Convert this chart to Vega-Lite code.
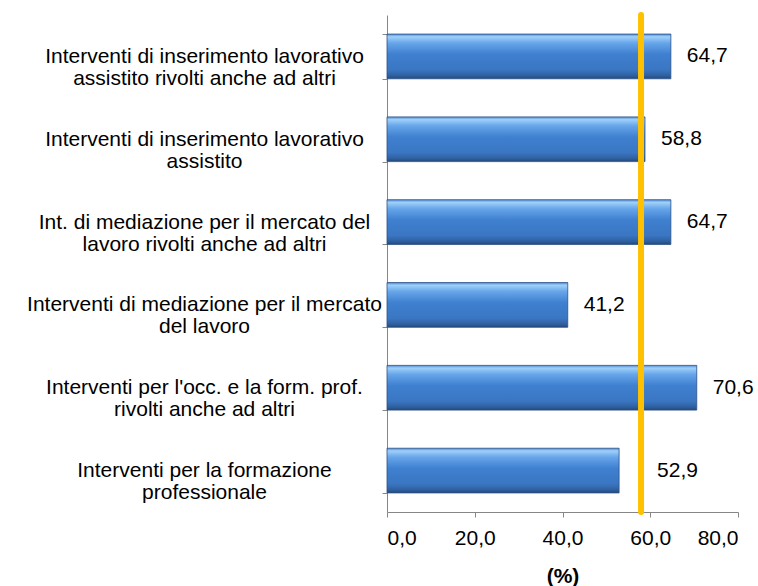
{
  "$schema": "https://vega.github.io/schema/vega-lite/v6.json",
  "width": 351,
  "height": 497,
  "autosize": {"type": "none"},
  "padding": {"left": 387, "top": 15, "right": 20, "bottom": 74},
  "background": "white",
  "config": {
    "font": "Liberation Sans",
    "view": {"stroke": null}
  },
  "datasets": {
    "righe": [
      {"categoria": "Interventi di inserimento lavorativo\nassistito rivolti anche ad altri", "valore": 64.7, "etichetta": "64,7"},
      {"categoria": "Interventi di inserimento lavorativo\nassistito", "valore": 58.8, "etichetta": "58,8"},
      {"categoria": "Int. di mediazione per il mercato del\nlavoro rivolti anche ad altri", "valore": 64.7, "etichetta": "64,7"},
      {"categoria": "Interventi di mediazione per il mercato\ndel lavoro", "valore": 41.2, "etichetta": "41,2"},
      {"categoria": "Interventi per l'occ. e la form. prof.\nrivolti anche ad altri", "valore": 70.6, "etichetta": "70,6"},
      {"categoria": "Interventi per la formazione\nprofessionale", "valore": 52.9, "etichetta": "52,9"}
    ],
    "media": [{"media": 57.9}]
  },
  "layer": [
    {
      "data": {"name": "righe"},
      "mark": {
        "type": "bar",
        "stroke": "#2b5286",
        "strokeWidth": 0.8,
        "color": {
          "gradient": "linear",
          "x1": 0, "y1": 0, "x2": 0, "y2": 1,
          "stops": [
            {"offset": 0, "color": "#4f8bd4"},
            {"offset": 0.06, "color": "#9fd0fa"},
            {"offset": 0.2, "color": "#67a6ea"},
            {"offset": 0.45, "color": "#3f80d0"},
            {"offset": 0.8, "color": "#3a76c2"},
            {"offset": 0.93, "color": "#2f609f"},
            {"offset": 1, "color": "#24487a"}
          ]
        }
      },
      "encoding": {
        "y": {
          "field": "categoria",
          "type": "nominal",
          "sort": null,
          "scale": {"paddingInner": 0.46, "paddingOuter": 0.23},
          "axis": {
            "title": null,
            "tickBand": "extent",
            "domainColor": "#868686",
            "tickColor": "#868686",
            "tickSize": 5,
            "labelFontSize": 21,
            "labelLineHeight": 22,
            "labelColor": "#000000",
            "labelAlign": "center",
            "labelBaseline": "middle",
            "labelLimit": 0,
            "labelOverlap": false,
            "labelPadding": 178,
            "labelExpr": "split(datum.label, '\\n')"
          }
        },
        "x": {
          "field": "valore",
          "type": "quantitative",
          "scale": {"domain": [0, 80], "nice": false},
          "axis": {
            "values": [0, 20, 40, 60, 80],
            "grid": false,
            "domainColor": "#868686",
            "tickColor": "#868686",
            "tickSize": 5,
            "labelFontSize": 21,
            "labelColor": "#000000",
            "labelPadding": 10,
            "labelExpr": "replace(format(datum.value, '.1f'), '.', ',')",
            "title": "(%)",
            "titleFontSize": 21,
            "titleFontWeight": "bold",
            "titleColor": "#000000",
            "titlePadding": 17
          }
        }
      }
    },
    {
      "data": {"name": "righe"},
      "mark": {"type": "text", "align": "left", "baseline": "middle", "dx": {"expr": "datum.valore === 52.9 ? 38 : 16"}, "fontSize": 21, "color": "#000000"},
      "encoding": {
        "y": {"field": "categoria", "type": "nominal", "sort": null},
        "x": {"field": "valore", "type": "quantitative"},
        "text": {"field": "etichetta"}
      }
    },
    {
      "data": {"name": "media"},
      "mark": {"type": "rule", "color": "#FFC000", "strokeWidth": 6, "strokeCap": "round"},
      "encoding": {
        "x": {"field": "media", "type": "quantitative"}
      }
    }
  ]
}
